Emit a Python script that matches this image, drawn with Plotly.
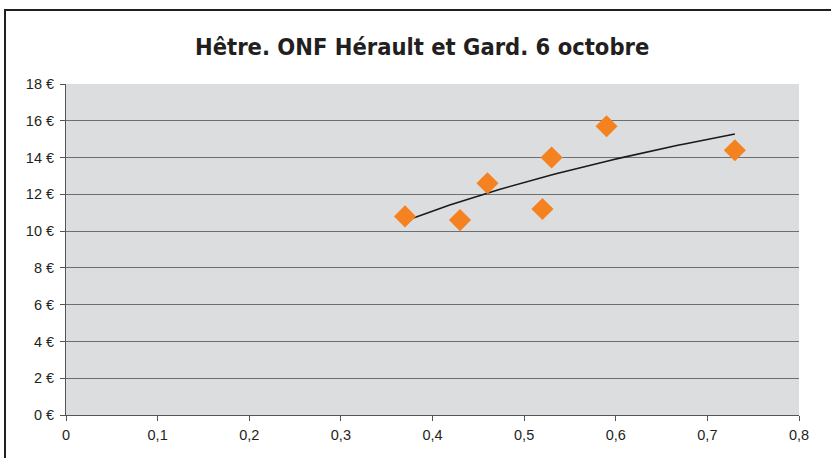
import numpy as np
import plotly.graph_objects as go

# Data
ratio = [0.37, 0.43, 0.46, 0.52, 0.53, 0.59, 0.73]
prix = [10.8, 10.6, 12.6, 11.2, 14.0, 15.7, 14.4]
y_ticks = [0, 2, 4, 6, 8, 10, 12, 14, 16, 18]
y_labels = [f"{v} €" for v in y_ticks]
x_ticks = [0, 0.1, 0.2, 0.3, 0.4, 0.5, 0.6, 0.7, 0.8]
x_labels = ["0", "0,1", "0,2", "0,3", "0,4", "0,5", "0,6", "0,7", "0,8"]
title = "Hêtre. ONF Hérault et Gard. 6 octobre"

# Logarithmic trend line fitted to the data
b, a = np.polyfit(np.log(ratio), prix, 1)
xt = np.linspace(min(ratio), max(ratio), 60)
yt = a + b * np.log(xt)

fig = go.Figure()
fig.add_trace(go.Scatter(x=xt, y=yt, mode="lines",
                         line=dict(color="#1a1a1a", width=1.6),
                         hoverinfo="skip", showlegend=False))
fig.add_trace(go.Scatter(x=ratio, y=prix, mode="markers",
                         marker=dict(symbol="diamond", size=17, color="#F58220",
                                     line=dict(width=0)),
                         showlegend=False))

L, R, T, B = 66, 32, 84, 43
W, H = 831, 458
pw, ph = W - L - R, H - T - B

def px_x(p):
    return (p - L) / pw

def px_y(p):
    return (H - B - p) / ph

tick_font = dict(family="Liberation Sans", size=14.5, color="#231F20")

fig.update_layout(
    width=W, height=H,
    margin=dict(l=L, r=R, t=T, b=B),
    paper_bgcolor="white",
    plot_bgcolor="#DCDDDF",
    title=dict(text="<b>" + title + "</b>", x=0.508, xanchor="center",
               y=1 - 47 / H, yanchor="middle",
               font=dict(family="DejaVu Sans Condensed, DejaVu Sans", size=23.5, color="#231F20")),
    xaxis=dict(range=[0, 0.8], tickvals=x_ticks, ticktext=x_labels,
               showgrid=False, zeroline=False, showline=True, linecolor="#555",
               linewidth=1, ticks="outside", ticklen=5, tickcolor="#555",
               tickfont=tick_font, ticklabelstandoff=2),
    yaxis=dict(range=[0, 18], tickvals=y_ticks, ticktext=y_labels,
               showgrid=True, gridcolor="#6e6e6e", gridwidth=1.2,
               zeroline=False, showline=True, linecolor="#555", linewidth=1,
               ticks="outside", ticklen=5, tickcolor="#555",
               tickfont=tick_font, ticklabelstandoff=3),
    shapes=[dict(type="rect", xref="paper", yref="paper",
                 x0=px_x(5), x1=px_x(840), y0=px_y(465), y1=px_y(10),
                 line=dict(color="#231F20", width=2), fillcolor="rgba(0,0,0,0)",
                 layer="below")],
)

fig.write_html("out.html", config={"displayModeBar": False},
               post_script="document.body.style.margin='0';document.body.style.padding='0';")
